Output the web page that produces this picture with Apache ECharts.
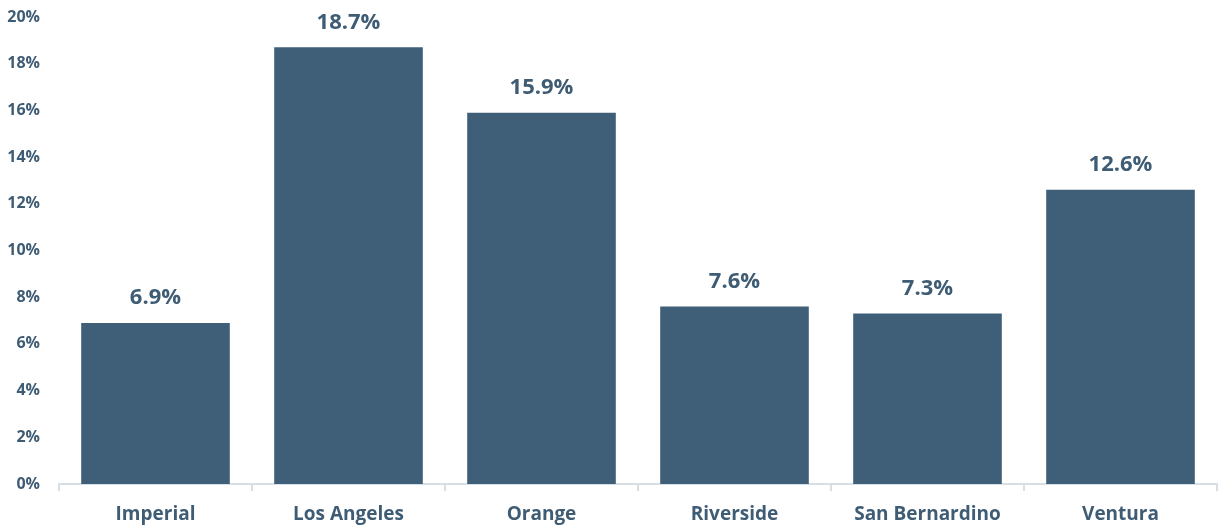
<!DOCTYPE html>
<html><head><meta charset="utf-8">
<script src="https://cdn.jsdelivr.net/npm/echarts@6/dist/echarts.min.js"></script>
<style>html,body{margin:0;padding:0;background:#fff}#c{width:1228px;height:529px}</style>
</head><body><div id="c"></div>
<script>
const categories = ["Imperial", "Los Angeles", "Orange", "Riverside", "San Bernardino", "Ventura"];
const values = [6.9, 18.7, 15.9, 7.6, 7.3, 12.6];
const yTicks = [0, 2, 4, 6, 8, 10, 12, 14, 16, 18, 20];

const txt = '#3f5c75';
const chart = echarts.init(document.getElementById('c'));
chart.setOption({
  animation: false,
  grid: {left: 59, right: 11, top: 17, bottom: 45},
  xAxis: {
    type: 'category', data: categories,
    axisLine: {show: true, lineStyle: {color: '#d6dee6', width: 2}},
    axisTick: {show: true, length: 7, lineStyle: {color: '#d6dee6', width: 2}},
    axisLabel: {color: txt, fontFamily: 'Open Sans', fontWeight: 'bold', fontSize: 19, margin: 21}
  },
  yAxis: {
    type: 'value', min: yTicks[0], max: yTicks[yTicks.length - 1], interval: 2,
    splitLine: {show: false}, axisLine: {show: false}, axisTick: {show: false},
    axisLabel: {color: txt, fontFamily: 'Open Sans', fontWeight: 'bold', fontSize: 16, margin: 19,
      formatter: v => v + '%'}
  },
  series: [{
    type: 'bar', data: values, barCategoryGap: '23%',
    itemStyle: {color: '#3f5f78'},
    label: {show: true, position: 'top', distance: 14, color: txt, fontFamily: 'Open Sans',
      fontWeight: 'bold', fontSize: 22, formatter: p => p.value.toFixed(1) + '%'}
  }]
});
</script></body></html>
